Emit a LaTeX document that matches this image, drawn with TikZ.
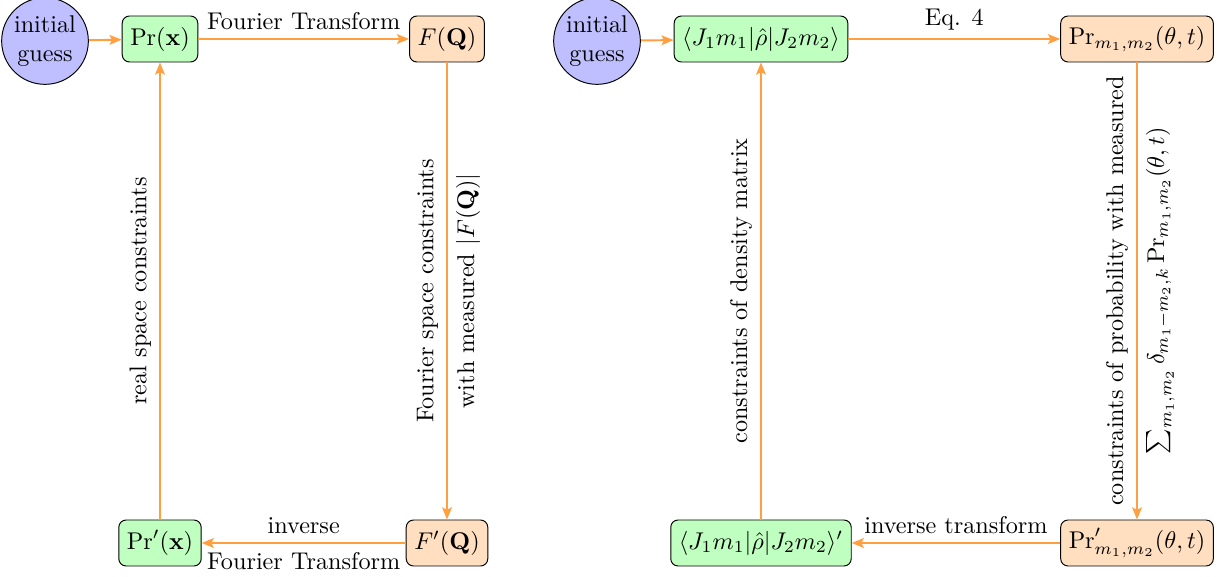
\documentclass[tikz,border=0pt]{standalone}
\usetikzlibrary{arrows.meta}
\begin{document}
\begin{tikzpicture}[x=0.4132pt,y=-0.4132pt,
  box/.style={draw, rounded corners=3pt, minimum height=19pt, inner xsep=3.33pt},
  gbox/.style={box, fill=green!25},
  obox/.style={box, fill=orange!25},
  guess/.style={circle, draw, fill=blue!25, align=center, inner sep=1pt},
  arr/.style={draw=orange!75, thick, -{Stealth[length=5pt,width=4pt,inset=1pt]}},
  lbl/.style={midway, rotate=90}]
\useasboundingbox (0,0) rectangle (1225,577);
% left cycle
\node[guess] (i1) at (45,41) {initial\\guess};
\node[gbox] (p1) at (160,39) {$\mathrm{Pr}(\mathbf{x})$};
\node[obox] (f1) at (447,39) {$F(\mathbf{Q})$};
\node[obox] (f2) at (447,543) {$F'(\mathbf{Q})$};
\node[gbox] (p2) at (160,543) {$\mathrm{Pr}'(\mathbf{x})$};
\draw[arr] (i1) -- (p1);
\draw[arr] (p1) -- node[above, text=black] {Fourier Transform} (f1);
\draw[arr] (f1) -- node[lbl, anchor=south] {Fourier space constraints}
                   node[lbl, anchor=north] {with measured $|F(\mathbf{Q})|$} (f2);
\draw[arr] (f2) -- node[above] {inverse} node[below] {Fourier Transform} (p2);
\draw[arr] (p2) -- node[lbl, anchor=south] {real space constraints} (p1);
% right cycle
\node[guess] (i2) at (597,41) {initial\\guess};
\node[gbox] (j1) at (761,39) {$\langle J_1 m_1|\hat\rho|J_2 m_2\rangle$};
\node[obox] (q1) at (1137,39) {$\mathrm{Pr}_{m_1,m_2}(\theta,t)$};
\node[obox] (q2) at (1137,543) {$\mathrm{Pr}'_{m_1,m_2}(\theta,t)$};
\node[gbox] (j2) at (761,543) {$\langle J_1 m_1|\hat\rho|J_2 m_2\rangle'$};
\draw[arr] (i2) -- (j1);
\draw[arr] (j1) -- node[above] {Eq. 4} (q1);
\draw[arr] (q1) -- node[lbl, anchor=south] {constraints of probability with measured}
                   node[lbl, anchor=north] {$\sum_{m_1,m_2}\delta_{m_1-m_2,k}\,\mathrm{Pr}_{m_1,m_2}(\theta,t)$} (q2);
\draw[arr] (q2) -- node[above] {inverse transform} (j2);
\draw[arr] (j2) -- node[lbl, anchor=south] {constraints of density matrix} (j1);
\end{tikzpicture}
\end{document}
